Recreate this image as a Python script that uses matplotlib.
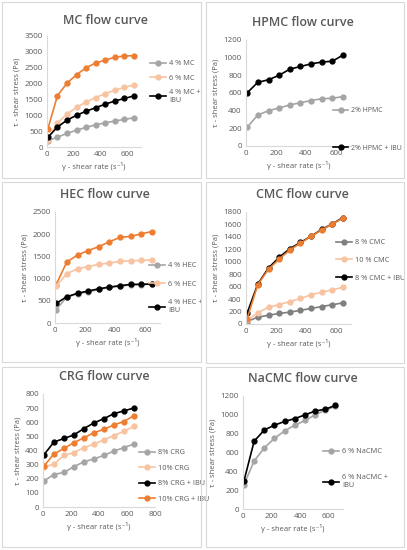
import matplotlib
matplotlib.use("Agg")
import matplotlib.pyplot as plt
from matplotlib.patches import Rectangle

plt.rcParams["font.family"] = ["Open Sans", "DejaVu Sans"]

W, H = 407, 550

# shear rate (1/s), shared by every panel
shear = [7, 78, 150, 220, 292, 363, 434, 505, 576, 647]

# MC
mc_4 = [200, 310, 430, 530, 620, 700, 760, 820, 870, 920]
mc_6 = [230, 760, 1040, 1250, 1420, 1560, 1680, 1790, 1880, 1960]
mc_4_ibu = [310, 630, 850, 1000, 1130, 1240, 1350, 1450, 1530, 1610]
mc_6_ibu = [580, 1620, 2020, 2280, 2500, 2650, 2740, 2830, 2870, 2880]

# HPMC
hpmc_2 = [210, 350, 400, 430, 465, 490, 515, 535, 540, 560]
hpmc_2_ibu = [600, 720, 750, 800, 870, 900, 930, 950, 960, 1030]

# HEC
hec_4 = [300, 580, 660, 700, 755, 800, 830, 860, 865, 875]
hec_6 = [830, 1110, 1220, 1270, 1320, 1350, 1390, 1400, 1410, 1420]
hec_4_ibu = [440, 590, 670, 720, 770, 810, 840, 870, 870, 880]
hec_6_ibu = [860, 1370, 1530, 1630, 1720, 1830, 1930, 1950, 2010, 2060]

# CMC
cmc_8 = [40, 110, 140, 170, 190, 220, 250, 280, 310, 340]
cmc_10 = [60, 180, 270, 310, 360, 410, 470, 510, 550, 590]
cmc_8_ibu = [170, 640, 900, 1070, 1210, 1310, 1410, 1520, 1610, 1710]
cmc_10_ibu = [80, 630, 880, 1040, 1190, 1300, 1410, 1510, 1610, 1700]

# CRG
crg_8 = [185, 230, 245, 285, 320, 340, 365, 395, 420, 445]
crg_10 = [280, 305, 365, 385, 420, 445, 475, 505, 535, 570]
crg_8_ibu = [370, 460, 485, 510, 555, 595, 625, 660, 680, 700]
crg_10_ibu = [290, 375, 415, 455, 490, 525, 550, 580, 605, 645]

# NaCMC
nacmc_6 = [260, 510, 650, 750, 830, 890, 940, 1000, 1050, 1090]
nacmc_6_ibu = [300, 720, 840, 890, 930, 960, 1000, 1040, 1060, 1100]

GREY = "#a5a5a5"
DGREY = "#7f7f7f"
LORANGE = "#f8c3a0"
ORANGE = "#ed7d31"
BLACK = "#000000"
TXT = "#595959"

fig = plt.figure(figsize=(W / 100, H / 100), dpi=100)
fig.patch.set_facecolor("white")


def fx(px):
    return px / W


def fy(py):
    return 1 - py / H


# panel borders
for (x0, y0, x1, y1) in [(2, 2, 201, 178), (206, 2, 404, 178),
                         (2, 182, 201, 362), (206, 182, 404, 363),
                         (2, 367, 201, 547), (206, 367, 404, 547)]:
    fig.patches.append(Rectangle((fx(x0), fy(y1)), fx(x1 - x0), (y1 - y0) / H,
                                 transform=fig.transFigure, fill=False,
                                 edgecolor="#d9d9d9", linewidth=0.8))


def panel(box, title, title_xy, xmax, ymax, ystep, series, leg_xy, leg_space,
          leg_order=None, leg_size=5.3):
    left, top, right, bottom = box
    ax = fig.add_axes([fx(left), fy(bottom), fx(right - left), (bottom - top) / H])
    for y, color, label in series:
        ax.plot(shear, y, color=color, marker="o", markersize=3.5, linewidth=1.2,
                label=label)
    ax.set_xlim(0, xmax)
    ax.set_ylim(0, ymax)
    ax.set_xticks(range(0, xmax + 1, 200) if xmax == 800 else range(0, 601, 200))
    ax.set_yticks(range(0, ymax + 1, ystep))
    for s in ["top", "right"]:
        ax.spines[s].set_visible(False)
    for s in ["left", "bottom"]:
        ax.spines[s].set_color("#d9d9d9")
        ax.spines[s].set_linewidth(0.8)
    ax.tick_params(length=0, labelsize=5.8, labelcolor=TXT, pad=3)
    ax.set_xlabel("γ - shear rate (s⁻¹)", fontsize=5.5, color=TXT, labelpad=3)
    ax.set_ylabel("τ - shear stress (Pa)", fontsize=5.5, color=TXT, labelpad=3)
    fig.text(fx(title_xy[0]), fy(title_xy[1]), title, ha="center", va="center",
             fontsize=9, fontweight="semibold", color=TXT)
    handles, labels = ax.get_legend_handles_labels()
    if leg_order is not None:
        handles = [handles[labels.index(k)] for k in leg_order]
        labels = list(leg_order)
    ax.legend(handles, labels, loc="upper left",
              bbox_to_anchor=(fx(leg_xy[0]), fy(leg_xy[1])),
              bbox_transform=fig.transFigure, frameon=False, fontsize=leg_size,
              labelcolor=TXT, handlelength=2.2, handletextpad=0.4,
              labelspacing=leg_space, borderaxespad=0, borderpad=0)
    return ax


panel((47, 36, 141, 147), "MC flow curve", (105, 20), 700, 3500, 500,
      [(mc_4, GREY, "4 % MC"), (mc_6, LORANGE, "6 % MC"),
       (mc_4_ibu, BLACK, "4 % MC +\nIBU"), (mc_6_ibu, ORANGE, None)],
      (150, 60), 1.0)

panel((246, 40, 351, 146), "HPMC flow curve", (303, 23), 700, 1200, 200,
      [(hpmc_2, GREY, "2% HPMC"), (hpmc_2_ibu, BLACK, "2% HPMC + IBU")],
      (333, 107), 4.4, leg_size=5.0)

panel((55, 212, 160, 323), "HEC flow curve", (105, 195), 700, 2500, 500,
      [(hec_6_ibu, ORANGE, None), (hec_6, LORANGE, "6 % HEC"),
       (hec_4, GREY, "4 % HEC"), (hec_4_ibu, BLACK, "4 % HEC +\nIBU")],
      (149, 262), 1.55, leg_order=["4 % HEC", "6 % HEC", "4 % HEC +\nIBU"])

panel((246, 212, 351, 324), "CMC flow curve", (302, 195), 700, 1800, 200,
      [(cmc_8, DGREY, "8 % CMC"), (cmc_10, LORANGE, "10 % CMC"),
       (cmc_8_ibu, BLACK, "8 % CMC + IBU"), (cmc_10_ibu, ORANGE, None)],
      (336, 239), 1.45)

panel((43, 394, 155, 507), "CRG flow curve", (104, 377), 800, 800, 100,
      [(crg_8, GREY, "8% CRG"), (crg_10, LORANGE, "10% CRG"),
       (crg_8_ibu, BLACK, "8% CRG + IBU"), (crg_10_ibu, ORANGE, "10% CRG + IBU")],
      (139, 449), 1.15)

panel((243, 396, 343, 509), "NaCMC flow curve", (303, 379), 700, 1200, 200,
      [(nacmc_6, GREY, "6 % NaCMC"), (nacmc_6_ibu, BLACK, "6 % NaCMC +\nIBU")],
      (323, 448), 2.6)

fig.savefig("out.png", dpi=100, facecolor="white")
